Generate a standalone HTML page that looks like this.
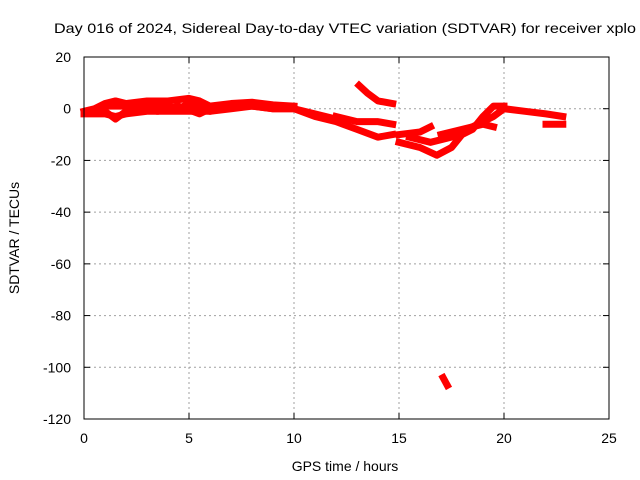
<!DOCTYPE html>
<html><head><meta charset="utf-8"><style>
body{margin:0;background:#fff}
svg{display:block;font-family:"Liberation Sans",sans-serif}
</style></head><body>
<svg width="640" height="480" id="c">
<rect width="640" height="480" fill="#fff"/>
<text x="54" y="33" font-size="14" textLength="582" lengthAdjust="spacingAndGlyphs" fill="#000">Day 016 of 2024, Sidereal Day-to-day VTEC variation (SDTVAR) for receiver xplo</text>
<g id="grid"></g>
<g id="ticks"></g>
<g id="series"></g>
<rect x="84" y="57" width="525" height="362" fill="none" stroke="#000" stroke-width="1"/>
<text x="345" y="471" font-size="14" text-anchor="middle">GPS time / hours</text>
<text transform="translate(19,238) rotate(-90)" font-size="14" text-anchor="middle">SDTVAR / TECUs</text>
</svg>
<script>
const xTicks=[0,5,10,15,20,25];
const yTicks=[20,0,-20,-40,-60,-80,-100,-120];
const trackA=[[0,-1],[0.5,0],[1,2],[1.5,3],[2,2],[3,3],[4,3],[5,4],[5.5,3],[6,1],[7,2],[8,2.5],[9,1.5],[10,1]];
const trackA2=[[0.3,-1],[1,1],[2,1],[2.5,2],[3,1],[4,1],[4.5,0],[5,2],[6,-1],[7,0],[8,1],[9,0],[10,0]];
const trackB=[[0,-2],[1,-2],[1.5,-3],[2,-2],[3,-1],[4,-1],[5,-1],[6,-1],[7,1],[8,1],[9,0],[10,0],[11,-2],[12,-4]];
const trackB2=[[1,-1],[1.5,-4],[2,-1],[3,0],[3.5,-1],[4.5,1],[5.5,-2],[6,0]];
const trackC=[[13.1,9],[13.5,6],[14,3],[14.7,2]];
const trackD=[[12,-3],[13,-5],[14,-5],[14.7,-6]];
const trackE=[[10,0],[11,-3],[12,-5],[13,-8],[14,-11],[14.7,-10]];
const trackF=[[15,-10],[16,-9],[16.5,-7]];
const trackG=[[15,-13],[16,-15],[16.8,-18],[17.5,-15],[18,-10],[18.5,-8],[19,-3],[19.5,1],[20,1]];
const trackH=[[15.5,-11],[16.5,-13],[17.5,-11],[18.5,-7],[19.5,-3],[20,0],[21,-1],[22,-2],[22.8,-3]];
const trackI=[[17,-10],[18,-8],[19,-6],[19.5,-7]];
const trackJ=[[22,-6],[22.8,-6]];
const trackK=[[17.1,-104],[17.3,-107]];
const tracks=[trackA,trackA2,trackB,trackB2,trackC,trackD,trackE,trackF,trackG,trackH,trackI,trackJ,trackK];
const NS="http://www.w3.org/2000/svg";
const X0=84,X1=609,Y0=57,Y1=419;
const xs=t=>X0+(t-0)/25*(X1-X0);
const ys=v=>Y0+(20-v)/140*(Y1-Y0);
const grid=document.getElementById('grid'),ticks=document.getElementById('ticks'),ser=document.getElementById('series');
function mk(tag,attrs,parent){const e=document.createElementNS(NS,tag);for(const k in attrs)e.setAttribute(k,attrs[k]);parent.appendChild(e);return e;}
xTicks.forEach(t=>{const x=xs(t);
 if(t>0&&t<25){const g=mk('line',{x1:x,x2:x,y1:Y0,y2:Y1,stroke:'#a0a0a0','stroke-dasharray':'2,3'},grid);
 
 }
 const a=mk('line',{x1:x,x2:x,y1:Y1,y2:Y1-6,stroke:'#000'},ticks);
 
 
 const b=mk('line',{x1:x,x2:x,y1:Y0,y2:Y0+6,stroke:'#000'},ticks);
 
 
 const l=mk('text',{x:x,y:443,'font-size':14,'text-anchor':'middle'},ticks);l.textContent=t;
 
 
});
yTicks.forEach(v=>{const y=ys(v);
 if(v<20&&v>-120){const g=mk('line',{x1:X0,x2:X1,y1:y,y2:y,stroke:'#a0a0a0','stroke-dasharray':'2,3'},grid);
 
 }
 const a=mk('line',{x1:X0,x2:X0+6,y1:y,y2:y,stroke:'#000'},ticks);
 
 
 const b=mk('line',{x1:X1,x2:X1-6,y1:y,y2:y,stroke:'#000'},ticks);
 
 
 const l=mk('text',{x:71,y:y+5,'font-size':14,'text-anchor':'end'},ticks);l.textContent=v;
 
 
});
tracks.forEach((tr,i)=>{
 const p=mk('polyline',{points:tr.map(d=>xs(d[0])+','+ys(d[1])).join(' '),fill:'none',stroke:'#ff0000','stroke-width':7,'stroke-linejoin':'round','stroke-linecap':'square'},ser);
 
 
});
</script>
</body></html>
